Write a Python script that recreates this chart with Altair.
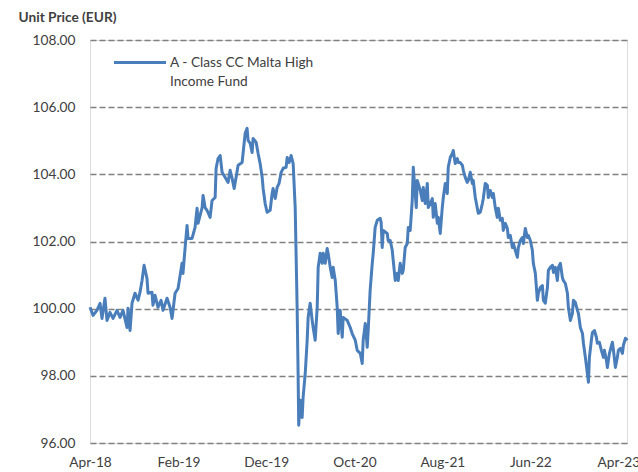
import altair as alt
import pandas as pd
import numpy as np

# months elapsed since 1 Apr 2018 and unit price (EUR)
months = [0, 0.35, 0.79, 1.14, 1.36, 1.70, 1.93, 2.27, 2.62, 3.06, 3.41, 3.75, 4.20, 4.32, 4.55, 4.77,
          5.11, 5.46, 5.68, 5.91, 6.14, 6.47, 6.59, 7.04, 7.15, 7.39, 7.72, 8.07, 8.29, 8.75, 9.09, 9.32,
          9.66, 10.00, 10.45, 10.56, 10.80, 11.02, 11.13, 11.59, 11.93, 12.16, 12.27, 12.73, 12.84, 13.07,
          13.29, 13.64, 13.86, 14.21, 14.32, 14.54, 14.78, 15.00, 15.34, 15.68, 15.91, 16.14, 16.37, 16.59,
          16.82, 17.27, 17.38, 17.62, 17.84, 17.95, 18.19, 18.41, 18.52, 18.87, 19.09, 19.32, 19.55, 19.66,
          19.89, 20.11, 20.46, 20.68, 20.79, 21.03, 21.25, 21.47, 21.71, 21.93, 22.27, 22.39, 22.61, 22.84,
          23.07, 23.30, 23.52, 23.63, 23.70, 23.87, 24.09, 24.20, 24.44, 24.66, 24.77, 25.00, 25.23, 25.34,
          25.57, 25.80, 25.91, 26.14, 26.36, 26.48, 26.71, 26.93, 27.04, 27.28, 27.50, 27.61, 27.85, 28.07,
          28.18, 28.41, 28.64, 28.75, 29.21, 29.55, 29.77, 30.12, 30.34, 30.69, 30.91, 31.02, 31.26, 31.48,
          31.59, 31.81, 32.05, 32.16, 32.38, 32.62, 32.95, 33.06, 33.18, 33.30, 33.75, 33.86, 34.09, 34.32,
          34.43, 34.66, 34.89, 35.00, 35.22, 35.46, 35.57, 35.79, 36.03, 36.14, 36.36, 36.59, 36.71, 36.82,
          37.05, 37.16, 37.27, 37.50, 37.73, 37.84, 38.07, 38.30, 38.41, 38.63, 38.87, 38.98, 39.20, 39.44,
          39.55, 39.77, 40.00, 40.12, 40.34, 40.57, 40.68, 40.91, 41.14, 41.25, 41.47, 41.71, 41.82, 42.04,
          42.28, 42.39, 42.61, 42.84, 42.96, 43.18, 43.41, 43.52, 43.75, 43.98, 44.09, 44.32, 44.55, 44.66,
          44.88, 45.12, 45.23, 45.45, 45.69, 45.80, 46.02, 46.25, 46.37, 46.59, 46.82, 46.93, 47.16, 47.39,
          47.50, 47.73, 47.96, 48.07, 48.29, 48.53, 48.64, 48.86, 49.10, 49.21, 49.43, 49.66, 49.78, 50.00,
          50.23, 50.34, 50.57, 50.80, 50.91, 51.14, 51.37, 51.48, 51.70, 51.94, 52.05, 52.27, 52.51, 52.62,
          52.84, 53.07, 53.19, 53.41, 53.64, 53.75, 53.98, 54.21, 54.32, 54.55, 54.78, 54.89, 55.11, 55.35,
          55.46, 55.68, 55.92, 56.03, 56.25, 56.48, 56.60, 56.71, 56.93, 57.05, 57.28, 57.50, 57.61, 57.84,
          58.07, 58.30, 58.41, 58.64, 58.75, 58.98, 59.32, 59.44, 59.66, 59.88, 60.00, 60.23, 60.46, 60.57,
          60.80, 61.02]

prices = [100.04, 99.80, 99.95, 100.16, 99.71, 100.31, 99.65, 99.89, 99.71, 99.95, 99.74, 99.95, 99.44, 100.01,
          99.35, 100.16, 100.46, 100.25, 100.49, 100.84, 101.29, 100.90, 100.46, 100.49, 100.10, 100.40, 100.04,
          100.25, 99.95, 100.31, 100.04, 99.71, 100.46, 100.60, 101.35, 101.05, 101.82, 102.48, 102.09, 102.09,
          102.42, 102.99, 102.54, 103.01, 103.37, 103.01, 102.93, 102.72, 103.22, 103.31, 104.18, 104.47, 104.56,
          104.06, 103.91, 103.76, 104.12, 103.88, 103.58, 103.91, 104.27, 104.35, 104.62, 105.22, 105.37, 105.01,
          104.92, 104.65, 105.07, 104.95, 104.62, 104.32, 103.91, 103.58, 103.13, 102.87, 102.93, 103.43, 103.58,
          103.28, 103.61, 103.73, 104.06, 104.18, 104.21, 104.50, 104.35, 104.56, 104.32, 103.01, 100.04, 98.07,
          96.53, 97.27, 96.76, 97.36, 98.07, 99.06, 99.74, 100.16, 99.65, 99.44, 99.06, 100.04, 101.23, 101.65,
          101.35, 101.65, 101.35, 101.79, 101.65, 101.23, 100.93, 101.23, 100.84, 100.04, 99.26, 99.95, 99.15,
          99.74, 99.65, 99.44, 99.26, 99.06, 98.76, 98.67, 98.37, 99.06, 99.56, 98.85, 99.35, 100.54, 101.35,
          101.65, 102.42, 102.63, 102.69, 102.57, 101.82, 102.33, 102.24, 102.03, 102.03, 101.74, 101.44, 100.84,
          101.05, 100.84, 101.35, 101.05, 101.14, 101.82, 101.94, 102.42, 102.33, 103.22, 104.21, 103.82, 103.01,
          103.82, 103.73, 103.52, 103.22, 103.61, 103.13, 103.73, 103.01, 103.13, 103.28, 102.72, 103.13, 102.54,
          102.72, 102.24, 103.01, 103.31, 103.73, 103.43, 104.21, 104.50, 104.62, 104.71, 104.32, 104.47, 104.35,
          104.35, 104.27, 104.12, 103.91, 103.76, 103.82, 104.06, 103.73, 103.82, 103.31, 102.99, 102.84, 102.87,
          103.13, 103.28, 103.73, 103.67, 103.31, 103.52, 103.31, 103.43, 103.01, 102.72, 102.99, 102.63, 102.69,
          102.33, 102.54, 102.39, 102.12, 102.18, 101.82, 101.94, 101.74, 101.53, 101.82, 102.03, 102.12, 101.94,
          102.39, 102.12, 102.18, 102.03, 101.74, 101.35, 101.05, 100.25, 100.46, 100.63, 100.69, 100.25, 100.16,
          100.63, 101.14, 101.23, 101.29, 101.08, 101.23, 100.84, 101.23, 101.35, 100.93, 100.84, 100.75, 100.46,
          100.04, 99.65, 99.86, 100.25, 100.19, 99.95, 99.86, 99.44, 99.26, 98.97, 98.55, 98.07, 97.81, 98.55,
          99.06, 99.29, 99.35, 99.15, 98.97, 99.00, 98.76, 98.55, 98.76, 98.46, 98.25, 98.67, 99.00, 98.76,
          98.25, 98.55, 98.76, 98.82, 98.67, 98.91, 99.12, 99.06]

series_name = "A - Class CC Malta High Income Fund"
legend_lines = ["A - Class CC Malta High", "Income Fund"]
y_ticks = [96, 98, 100, 102, 104, 106, 108]
x_tick_dates = [(2018, 4), (2019, 2), (2019, 12), (2020, 10), (2021, 8), (2022, 6), (2023, 4)]

start = pd.Timestamp("2018-04-01")
dates = start + pd.to_timedelta(np.array(months) * 30.4375, unit="D")
df = pd.DataFrame({"date": dates, "price": prices, "series": series_name})

LINE = "#4a7ebb"
TXT = "#404040"
FONT = "Lato"
FS = 13.7

x_enc = alt.X(
    "date:T",
    scale=alt.Scale(domain=[alt.DateTime(year=2018, month=4, date=1),
                            alt.DateTime(year=2023, month=5, date=1)]),
    axis=alt.Axis(
        title=None, format="%b-%y",
        values=[alt.DateTime(year=y, month=m, date=1) for y, m in x_tick_dates],
        grid=False, domain=False, ticks=False, labelPadding=12,
        labelFontSize=FS, labelColor=TXT, labelFont=FONT, labelFlush=False,
    ),
)
y_enc = alt.Y(
    "price:Q",
    scale=alt.Scale(domain=[96, 108], nice=False, zero=False),
    axis=alt.Axis(
        title="Unit Price (EUR)", titleAngle=0, titleX=-72, titleY=-23,
        titleAlign="left", titleBaseline="middle", titleFontWeight="bold",
        titleFontSize=FS, titleColor=TXT, titleFont=FONT,
        values=y_ticks, format=".2f", domain=False, ticks=False,
        labelPadding=15, labelFontSize=FS, labelColor=TXT, labelFont=FONT,
        grid=True, gridDash=[6, 3], gridColor="#808080", gridWidth=1.3,
    ),
)

line = alt.Chart(df).mark_line(color=LINE, strokeWidth=3, strokeJoin="round").encode(
    x=x_enc, y=y_enc
)

one = pd.DataFrame({"k": [0]})
leg_rule = alt.Chart(one).mark_rule(color=LINE, strokeWidth=3).encode(
    x=alt.value(24), x2=alt.value(76), y=alt.value(22.5)
)
leg_t1 = alt.Chart(one).mark_text(
    text=legend_lines[0], align="left", baseline="middle", fontSize=FS, font=FONT, color=TXT
).encode(x=alt.value(80), y=alt.value(23))
leg_t2 = alt.Chart(one).mark_text(
    text=legend_lines[1], align="left", baseline="middle", fontSize=FS, font=FONT, color=TXT
).encode(x=alt.value(80), y=alt.value(42))

chart = alt.layer(line, leg_rule, leg_t1, leg_t2).properties(
    width=537, height=403,
    autosize=alt.AutoSizeParams(type="none"),
    padding={"left": 90, "top": 40, "right": 11, "bottom": 29},
).configure_view(stroke=None).configure(background="white")

chart.save("out.html", embed_options={"renderer": "svg", "actions": False})
